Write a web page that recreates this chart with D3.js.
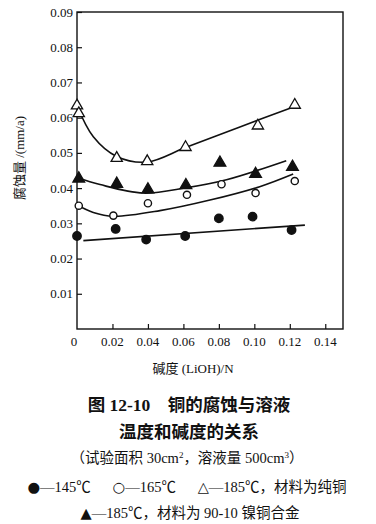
<!DOCTYPE html>
<html>
<head>
<meta charset="utf-8">
<script src="https://cdn.jsdelivr.net/npm/d3@7/dist/d3.min.js"></script>
<style>
  body { margin: 0; background: #fff; }
  svg text { fill: #111; }
</style>
</head>
<body>
<div id="chart"></div>
<script>
// x ticks / y ticks
var xTicks = [0, 0.02, 0.04, 0.06, 0.08, 0.10, 0.12, 0.14];
var xTickLabels = ["0", "0.02", "0.04", "0.06", "0.08", "0.10", "0.12", "0.14"];
var yTicks = [0.01, 0.02, 0.03, 0.04, 0.05, 0.06, 0.07, 0.08, 0.09];

// measured points [alkalinity, corrosion]
var pts145 = [[0, 0.0264], [0.0218, 0.0284], [0.039, 0.0254], [0.061, 0.0264], [0.080, 0.0314], [0.099, 0.0319], [0.121, 0.0281]];
var pts165 = [[0.001, 0.0350], [0.0205, 0.0322], [0.040, 0.0357], [0.062, 0.0381], [0.0815, 0.0411], [0.1007, 0.0386], [0.1228, 0.0420]];
var pts185 = [[0, 0.0634], [0.001, 0.0612], [0.0224, 0.0485], [0.0396, 0.0476], [0.0612, 0.0516], [0.102, 0.0577], [0.1228, 0.0636]];
var pts185Ni = [[0.001, 0.0427], [0.0224, 0.0412], [0.040, 0.0396], [0.0614, 0.0408], [0.0806, 0.0472], [0.1007, 0.0440], [0.1215, 0.0460]];

// fitted curves
var fit145 = [[0.0036, 0.0251], [0.1285, 0.0295]];
var fit165 = [[0, 0.0352], [0.0092, 0.0331], [0.0205, 0.0320], [0.0468, 0.0336], [0.075, 0.0366], [0.103, 0.0404], [0.1219, 0.0440]];
var fit185 = [[0, 0.0634], [0.0092, 0.0546], [0.0224, 0.0490], [0.0396, 0.0474], [0.0612, 0.0515], [0.09, 0.0570], [0.1228, 0.0632]];
var fit185Ni = [[0, 0.0430], [0.013, 0.0410], [0.0374, 0.0386], [0.0614, 0.0401], [0.0843, 0.0424], [0.118, 0.0478]];

var W = 376, H = 524;
var svg = d3.select("#chart").append("svg")
  .attr("width", W).attr("height", H);

var x = d3.scaleLinear().domain([0, 0.15]).range([77, 343]);
var y = d3.scaleLinear().domain([0, 0.09]).range([329, 12]);

var serif = "'Liberation Serif', 'DejaVu Serif', serif";
var cjk = "'Liberation Serif', 'Noto Sans CJK SC', serif";
var sym = "'DejaVu Sans', sans-serif";

// frame
svg.append("rect")
  .attr("x", x(0)).attr("y", y(0.09))
  .attr("width", x(0.15) - x(0)).attr("height", y(0) - y(0.09))
  .attr("fill", "none").attr("stroke", "#111").attr("stroke-width", 1.4);

// y axis, inward ticks
var yAxis = svg.append("g")
  .attr("transform", "translate(" + x(0) + ",0)")
  .call(d3.axisRight(y).tickValues(yTicks).tickSize(5).tickFormat(""));
yAxis.select(".domain").remove();
yAxis.selectAll("line").attr("stroke", "#111").attr("stroke-width", 1.2);

svg.selectAll(".ylab").data(yTicks).enter().append("text")
  .attr("x", x(0) - 4).attr("y", function(d) { return y(d) + 4.5; })
  .attr("text-anchor", "end")
  .style("font-family", serif).style("font-size", "13px")
  .text(function(d) { return d3.format(".2f")(d); });

// x axis, inward ticks
var xAxis = svg.append("g")
  .attr("transform", "translate(0," + y(0) + ")")
  .call(d3.axisTop(x).tickValues(xTicks.slice(1)).tickSize(5).tickFormat(""));
xAxis.select(".domain").remove();
xAxis.selectAll("line").attr("stroke", "#111").attr("stroke-width", 1.2);

svg.selectAll(".xlab").data(xTicks).enter().append("text")
  .attr("x", function(d) { return x(d) - (d === 0 ? 3 : 0); })
  .attr("y", y(0) + 17)
  .attr("text-anchor", "middle")
  .style("font-family", serif).style("font-size", "13px")
  .text(function(d, i) { return xTickLabels[i]; });

// axis titles
svg.append("text")
  .attr("x", 193).attr("y", 373)
  .attr("text-anchor", "middle")
  .style("font-family", cjk).style("font-size", "13px")
  .text("碱度 (LiOH)/N");

svg.append("text")
  .attr("transform", "translate(24,158) rotate(-90)")
  .attr("text-anchor", "middle")
  .style("font-family", cjk).style("font-size", "13px")
  .text("腐蚀量 /(mm/a)");

// curves
var line = d3.line()
  .x(function(d) { return x(d[0]); })
  .y(function(d) { return y(d[1]); })
  .curve(d3.curveCatmullRom.alpha(0.5));

[fit145, fit165, fit185, fit185Ni].forEach(function(f) {
  svg.append("path").datum(f)
    .attr("d", line)
    .attr("fill", "none").attr("stroke", "#111").attr("stroke-width", 1.6);
});

// markers
function circles(data, filled) {
  svg.append("g").selectAll("circle").data(data).enter().append("circle")
    .attr("cx", function(d) { return x(d[0]); })
    .attr("cy", function(d) { return y(d[1]); })
    .attr("r", filled ? 4.2 : 3.6)
    .attr("fill", filled ? "#111" : "#fff")
    .attr("stroke", "#111").attr("stroke-width", 1.4);
}
function triangles(data, filled) {
  svg.append("g").selectAll("path").data(data).enter().append("path")
    .attr("transform", function(d) { return "translate(" + x(d[0]) + "," + y(d[1]) + ")"; })
    .attr("d", d3.symbol().type(d3.symbolTriangle).size(filled ? 60 : 55))
    .attr("fill", filled ? "#111" : "#fff")
    .attr("stroke", "#111").attr("stroke-width", 1.3);
}
circles(pts145, true);
circles(pts165, false);
triangles(pts185, false);
triangles(pts185Ni, true);

// caption
svg.append("text")
  .attr("x", 189).attr("y", 411)
  .attr("text-anchor", "middle")
  .style("font-family", cjk).style("font-size", "17.5px").style("font-weight", "bold")
  .text("图 12-10\u3000铜的腐蚀与溶液");
svg.append("text")
  .attr("x", 189).attr("y", 438)
  .attr("text-anchor", "middle")
  .style("font-family", cjk).style("font-size", "17.5px").style("font-weight", "bold")
  .text("温度和碱度的关系");

var sub = svg.append("text")
  .attr("x", 187).attr("y", 463)
  .attr("text-anchor", "middle")
  .style("font-family", cjk).style("font-size", "14.5px");
sub.append("tspan").text("（试验面积 30cm");
sub.append("tspan").attr("dy", -5).style("font-size", "9px").text("2");
sub.append("tspan").attr("dy", 5).text("，溶液量 500cm");
sub.append("tspan").attr("dy", -5).style("font-size", "9px").text("3");
sub.append("tspan").attr("dy", 5).text("）");

var leg1 = svg.append("text")
  .attr("x", 187).attr("y", 492)
  .attr("text-anchor", "middle")
  .style("font-family", cjk).style("font-size", "14.5px");
leg1.append("tspan").style("font-family", sym).text("●");
leg1.append("tspan").text("—145℃\u2003\u2002");
leg1.append("tspan").style("font-family", sym).text("○");
leg1.append("tspan").text("—165℃\u2003\u2002");
leg1.append("tspan").style("font-family", sym).text("△");
leg1.append("tspan").text("—185℃，材料为纯铜");

var leg2 = svg.append("text")
  .attr("x", 190).attr("y", 518)
  .attr("text-anchor", "middle")
  .style("font-family", cjk).style("font-size", "14.5px");
leg2.append("tspan").style("font-family", sym).text("▲");
leg2.append("tspan").text("—185℃，材料为 90-10 镍铜合金");
</script>
</body>
</html>
